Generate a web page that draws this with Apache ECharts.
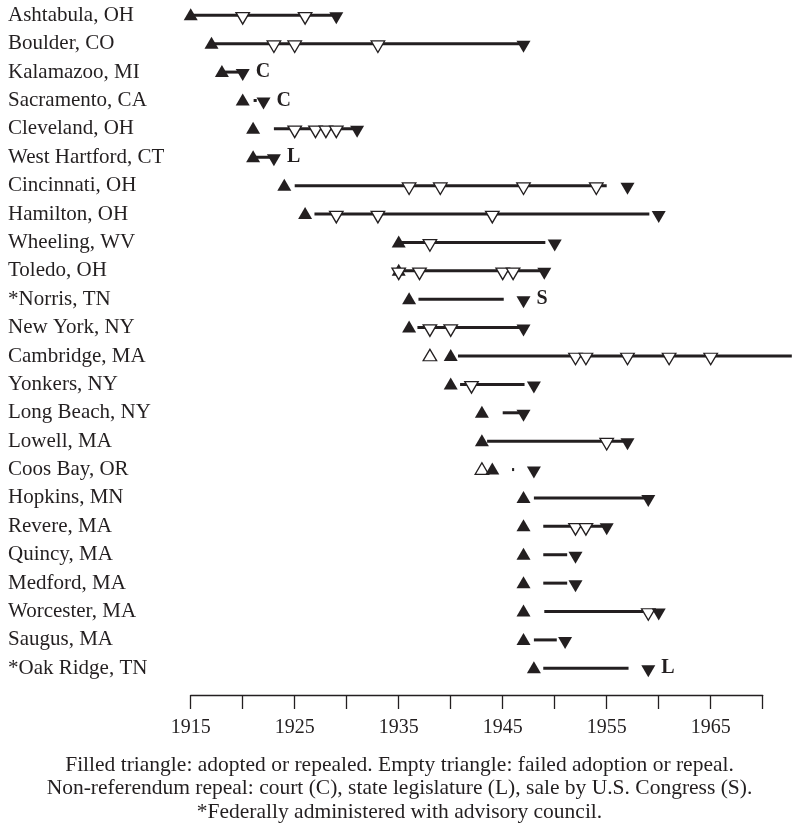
<!DOCTYPE html>
<html>
<head>
<meta charset="utf-8">
<script src="https://cdn.jsdelivr.net/npm/echarts@6/dist/echarts.min.js"></script>
<style>
html,body{margin:0;padding:0;background:#fff;}
#chart{width:799px;height:825px;}
</style>
</head>
<body>
<div id="chart"></div>
<script>
const cities = ['Ashtabula, OH','Boulder, CO','Kalamazoo, MI','Sacramento, CA','Cleveland, OH','West Hartford, CT','Cincinnati, OH','Hamilton, OH','Wheeling, WV','Toledo, OH','*Norris, TN','New York, NY','Cambridge, MA','Yonkers, NY','Long Beach, NY','Lowell, MA','Coos Bay, OR','Hopkins, MN','Revere, MA','Quincy, MA','Medford, MA','Worcester, MA','Saugus, MA','*Oak Ridge, TN'];
// filled up-triangle: adoption year
const adoptedYears = [1915,1917,1918,1920,1921,1921,1924,1926,1935,1935,1936,1936,1940,1940,1943,1943,1944,1947,1947,1947,1947,1947,1947,1948];
// filled down-triangle: repeal year (null = not repealed)
const repealedYears = [1929,1947,1920,1922,1931,1923,1957,1960,1950,1949,1947,1947,null,1948,1947,1957,1948,1959,1955,1952,1952,1960,1951,1959];
// non-referendum repeal mode
const repealMode = ['','','C','C','','L','','','','','S','','','','','','','','','','','','','L'];
// empty down-triangles: failed repeals
const failedRepeals = [[1920,1926],[1923,1925,1933],[],[],[1925,1927,1928,1929],[],[1936,1939,1947,1954],[1929,1933,1944],[1938],[1935,1937,1945,1946],[],[1938,1940],[1952,1953,1957,1961,1965],[1942],[],[1955],[],[],[1952,1953],[],[],[1959],[],[]];
// empty up-triangles: failed adoptions
const failedAdoptions = [['Cambridge, MA',1938],['Coos Bay, OR',1943]];
// bars (line segments)
const lineStart = [1915,1917,1918,1921.05,1923,1921,1925,1926.9,1935,1935.5,1936.9,1936.8,1940.7,1940.9,1945,1943.5,1945.9,1948,1948.9,1948.9,1948.9,1949,1948,1948.9];
const lineEnd   = [1929,1947,1920,1921.35,1931,1923,1955,1959.1,1949.1,1949,1945.1,1947,1972.8,1947.1,1947,1957,1946.1,1959,1955,1951.2,1951.2,1958.5,1950.2,1957.1];
const tickLabels = [1915,1925,1935,1945,1955,1965];
const captionLines = [
  'Filled triangle: adopted or repealed. Empty triangle: failed adoption or repeal.',
  'Non-referendum repeal: court (C), state legislature (L), sale by U.S. Congress (S).',
  '*Federally administered with advisory council.'
];

const INK = '#231f20';
const FONT = '"Liberation Serif", "Times New Roman", serif';
const DOWN = 'path://M-1,-1L1,-1L0,1Z';

const segData = cities.map((c,i)=>[lineStart[i], lineEnd[i], i]);
const adoptData = adoptedYears.map((y,i)=>[y,i]);
const failAdoptData = failedAdoptions.map(d=>[d[1], cities.indexOf(d[0])]);
const failRepealData = [];
failedRepeals.forEach((arr,i)=>arr.forEach(y=>failRepealData.push([y,i])));
const repealData = [];
repealedYears.forEach((y,i)=>{
  if (y == null) return;
  const item = {value:[y,i]};
  if (repealMode[i]) item.label = {show:true, formatter: repealMode[i]};
  repealData.push(item);
});

const chart = echarts.init(document.getElementById('chart'), null, {renderer:'canvas'});
chart.setOption({
  animation:false,
  backgroundColor:'#fff',
  title:{
    text: captionLines.join('\n'),
    left:'center', top:754, padding:0,
    textStyle:{fontFamily:FONT, fontSize:21.5, fontWeight:'normal', color:INK, lineHeight:23.2}
  },
  grid:{left:190.7, right:36.3, top:1.1, bottom:142.5, containLabel:false},
  xAxis:{
    type:'value', min:1915, max:1970, interval:5, offset:12.5,
    axisLine:{show:true, lineStyle:{color:INK, width:1.3}},
    axisTick:{show:true, length:14, lineStyle:{color:INK, width:1.3}},
    splitLine:{show:false},
    axisLabel:{
      margin:23, fontFamily:FONT, fontSize:20, color:INK,
      formatter: v => tickLabels.indexOf(v) >= 0 ? String(v) : ''
    }
  },
  yAxis:{
    type:'category', data:cities, inverse:true,
    axisLine:{show:false}, axisTick:{show:false}, splitLine:{show:false},
    axisLabel:{interval:0, align:'left', margin:182.7, fontFamily:FONT, fontSize:21, color:INK}
  },
  series:[
    {
      type:'custom', z:1, clip:false,
      encode:{x:[0,1], y:2},
      data:segData,
      renderItem:(params, api)=>{
        const yi = api.value(2);
        const p1 = api.coord([api.value(0), yi]);
        const p2 = api.coord([api.value(1), yi]);
        return {type:'line', shape:{x1:p1[0], y1:p1[1], x2:p2[0], y2:p2[1]}, style:{stroke:INK, lineWidth:3}};
      }
    },
    {
      type:'scatter', z:2, data:failAdoptData,
      symbol:'triangle', symbolSize:[13.5,11.5], symbolOffset:[0,-1],
      itemStyle:{color:'#fff', borderColor:INK, borderWidth:1.3, opacity:1}
    },
    {
      type:'scatter', z:3, data:adoptData,
      symbol:'triangle', symbolSize:[14,12], symbolOffset:[0,-1],
      itemStyle:{color:INK, opacity:1}
    },
    {
      type:'scatter', z:4, data:failRepealData,
      symbol:DOWN, symbolSize:[13.5,11.5], symbolOffset:[0,3],
      itemStyle:{color:'#fff', borderColor:INK, borderWidth:1.3, opacity:1}
    },
    {
      type:'scatter', z:5, data:repealData,
      symbol:DOWN, symbolSize:[14,12], symbolOffset:[0,3],
      itemStyle:{color:INK, opacity:1},
      label:{show:false, position:'right', distance:6, offset:[0,-3], fontFamily:FONT, fontSize:20, fontWeight:'bold', color:INK}
    }
  ]
});
</script>
</body>
</html>
